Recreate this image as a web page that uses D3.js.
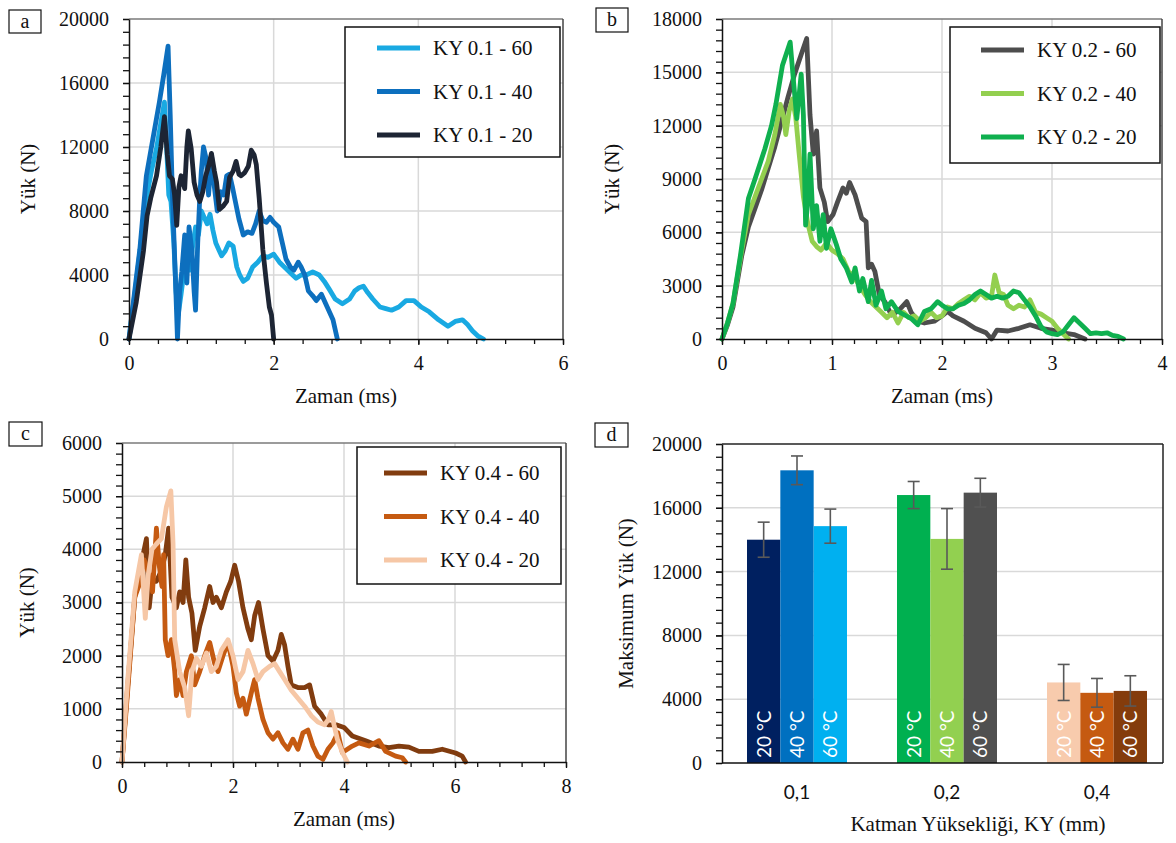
<!DOCTYPE html>
<html>
<head>
<meta charset="utf-8">
<script src="https://cdn.jsdelivr.net/npm/d3@7"></script>
<style>
body { margin: 0; background: #fff; }
svg { display: block; }
</style>
</head>
<body>
<svg id="fig" width="1176" height="843"></svg>
<script>
// ---- panel a : KY 0.1 ----
const aTime60 = [0, 0.05, 0.1, 0.17, 0.24, 0.31, 0.38, 0.44, 0.49, 0.52, 0.55, 0.58, 0.62, 0.65, 0.68, 0.72, 0.76, 0.8, 0.84, 0.88, 0.92, 0.96, 1.0, 1.04, 1.08, 1.12, 1.16, 1.2, 1.24, 1.28, 1.33, 1.38, 1.44, 1.49, 1.53, 1.58, 1.64, 1.71, 1.78, 1.85, 1.92, 2.0, 2.08, 2.17, 2.24, 2.31, 2.38, 2.45, 2.54, 2.63, 2.7, 2.77, 2.85, 2.95, 3.05, 3.12, 3.18, 3.24, 3.3, 3.37, 3.47, 3.55, 3.63, 3.73, 3.83, 3.94, 4.04, 4.15, 4.28, 4.41, 4.51, 4.61, 4.68, 4.75, 4.82, 4.9];
const aLoad60 = [0, 1800, 3500, 6200, 8800, 10500, 11900, 13500, 14800, 12000, 9000, 8600, 6000, 3000, 1500, 2800, 4200, 5500, 4300, 5800, 7000, 6500, 8000, 7600, 7200, 7800, 6800, 6000, 5600, 5200, 5500, 6000, 5800, 4500, 4000, 3600, 3800, 4500, 4800, 5200, 5100, 5300, 4800, 4400, 4100, 3800, 4000, 4000, 4200, 4000, 3600, 3100, 2500, 2200, 2500, 3000, 3200, 3300, 2900, 2500, 2000, 1900, 1800, 2000, 2400, 2400, 2000, 1700, 1200, 800, 1100, 1200, 900, 500, 200, 0];
const aTime40 = [0, 0.05, 0.1, 0.15, 0.24, 0.33, 0.42, 0.48, 0.54, 0.57, 0.6, 0.64, 0.67, 0.7, 0.73, 0.77, 0.8, 0.83, 0.87, 0.9, 0.92, 0.95, 0.98, 1.0, 1.03, 1.07, 1.1, 1.14, 1.18, 1.22, 1.27, 1.31, 1.35, 1.39, 1.43, 1.47, 1.52, 1.58, 1.64, 1.7, 1.75, 1.8, 1.85, 1.9, 1.95, 2.0, 2.07, 2.12, 2.17, 2.23, 2.28, 2.34, 2.38, 2.43, 2.48, 2.54, 2.59, 2.66, 2.74, 2.82, 2.88];
const aLoad40 = [0, 1900, 3800, 5600, 10200, 12500, 14800, 16500, 18300, 14000, 9000, 4000, 0, 3000, 4200, 6500, 3500, 7000, 5500, 3000, 1800, 6000, 9000, 10500, 12000, 11200, 9000, 11500, 9500, 8000, 9200, 9000, 10200, 10300, 9500, 8600, 7500, 6500, 6700, 6600, 7200, 8000, 7400, 7300, 7600, 7300, 7000, 6000, 5000, 4500, 4300, 4800, 4500, 4000, 3000, 2700, 2400, 2800, 2000, 1200, 0];
const aTime20 = [0, 0.1, 0.2, 0.25, 0.3, 0.38, 0.44, 0.49, 0.53, 0.56, 0.6, 0.63, 0.66, 0.69, 0.72, 0.77, 0.8, 0.82, 0.86, 0.9, 0.94, 0.98, 1.02, 1.06, 1.1, 1.14, 1.18, 1.21, 1.25, 1.3, 1.35, 1.39, 1.44, 1.48, 1.52, 1.55, 1.6, 1.65, 1.69, 1.73, 1.76, 1.8, 1.85, 1.9, 1.94, 1.97, 2.0];
const aLoad20 = [0, 2300, 5500, 7700, 8800, 10200, 12000, 13900, 11500, 10200, 10000, 9000, 7100, 9500, 10200, 9400, 12000, 13000, 11900, 9800, 9000, 8600, 9200, 10200, 10800, 11600, 10500, 9800, 8100, 8300, 8600, 10100, 10500, 11100, 10300, 10200, 10400, 10800, 11800, 11500, 10900, 8800, 5600, 3500, 2000, 1500, 0];

// ---- panel b : KY 0.2 ----
const bTime60 = [0, 0.05, 0.1, 0.18, 0.24, 0.3, 0.36, 0.42, 0.48, 0.54, 0.6, 0.66, 0.72, 0.77, 0.8, 0.83, 0.86, 0.89, 0.93, 0.96, 1.01, 1.05, 1.1, 1.13, 1.16, 1.21, 1.27, 1.31, 1.33, 1.36, 1.39, 1.43, 1.48, 1.54, 1.58, 1.62, 1.68, 1.72, 1.78, 1.84, 1.93, 2.0, 2.05, 2.1, 2.2, 2.3, 2.4, 2.45, 2.5, 2.6, 2.7, 2.8, 2.9, 3.0, 3.1, 3.2, 3.3];
const bLoad60 = [0, 800, 1800, 4700, 6300, 7350, 8400, 9600, 10800, 12200, 13600, 14900, 16000, 16900, 12600, 10400, 11700, 8500, 7700, 6600, 7000, 7700, 8500, 8200, 8800, 8100, 6800, 6600, 4000, 4200, 3800, 2500, 2100, 1350, 1500, 1700, 2100, 1500, 1000, 900, 1000, 1300, 1550, 1300, 1000, 600, 350, 0, 500, 450, 600, 800, 600, 500, 350, 250, 0];
const bTime40 = [0, 0.05, 0.1, 0.18, 0.24, 0.3, 0.36, 0.42, 0.48, 0.53, 0.56, 0.58, 0.61, 0.64, 0.67, 0.7, 0.74, 0.78, 0.82, 0.86, 0.9, 0.95, 1.0, 1.05, 1.1, 1.15, 1.2, 1.25, 1.3, 1.35, 1.4, 1.45, 1.5, 1.55, 1.6, 1.65, 1.7, 1.75, 1.8, 1.85, 1.9, 1.95, 2.0, 2.05, 2.1, 2.15, 2.2, 2.25, 2.3, 2.35, 2.4, 2.45, 2.48, 2.52, 2.56, 2.6, 2.65, 2.7, 2.75, 2.8, 2.85, 2.9, 2.95, 3.0, 3.05, 3.1, 3.15];
const bLoad40 = [0, 900, 2000, 5000, 7000, 8000, 9000, 10000, 11500, 13200, 12500, 11500, 12800, 13500, 12500, 10500, 8000, 6500, 5500, 5200, 5000, 5400, 5000, 4800, 4500, 3800, 3500, 3000, 2500, 2100, 1800, 1500, 1200, 1500, 900, 1500, 1200, 1300, 1000, 1200, 1500, 1200, 1300, 1800, 1700, 2000, 2200, 2400, 2200, 2600, 2300, 2400, 3600, 2600, 2500, 1900, 1700, 1900, 1800, 2200, 1500, 1400, 1200, 1000, 600, 300, 0];
const bTime20 = [0, 0.05, 0.1, 0.17, 0.24, 0.3, 0.39, 0.45, 0.49, 0.55, 0.62, 0.65, 0.68, 0.72, 0.74, 0.76, 0.78, 0.8, 0.83, 0.86, 0.89, 0.92, 0.95, 0.99, 1.04, 1.08, 1.13, 1.18, 1.21, 1.25, 1.28, 1.33, 1.36, 1.4, 1.45, 1.49, 1.54, 1.6, 1.66, 1.72, 1.78, 1.84, 1.9, 1.96, 2.0, 2.05, 2.1, 2.15, 2.2, 2.25, 2.3, 2.35, 2.4, 2.45, 2.5, 2.55, 2.6, 2.65, 2.7, 2.75, 2.8, 2.85, 2.9, 2.95, 3.0, 3.05, 3.1, 3.15, 3.2, 3.25, 3.3, 3.35, 3.4, 3.45, 3.5, 3.55, 3.6, 3.65];
const bLoad20 = [0, 900, 2000, 4800, 7900, 9000, 10700, 12000, 13200, 15400, 16700, 14500, 12400, 14900, 12600, 6400, 7700, 10400, 6200, 7500, 5500, 7000, 5100, 6200, 5300, 4500, 4000, 3200, 4000, 2700, 3400, 2100, 3300, 1900, 2700, 1700, 2100, 1550, 1350, 1150, 800, 1550, 1700, 2100, 1900, 1700, 1700, 1900, 2000, 2200, 2500, 2700, 2500, 2300, 2400, 2300, 2400, 2700, 2600, 2200, 1800, 1300, 700, 400, 300, 250, 400, 800, 1200, 900, 600, 300, 350, 300, 350, 200, 150, 0];

// ---- panel c : KY 0.4 ----
const cTime60 = [0, 0.1, 0.23, 0.3, 0.38, 0.44, 0.49, 0.54, 0.62, 0.71, 0.78, 0.84, 0.9, 0.98, 1.04, 1.1, 1.15, 1.2, 1.26, 1.32, 1.4, 1.49, 1.58, 1.64, 1.7, 1.79, 1.88, 1.96, 2.03, 2.1, 2.18, 2.27, 2.33, 2.39, 2.46, 2.54, 2.63, 2.72, 2.81, 2.87, 2.93, 2.99, 3.05, 3.17, 3.29, 3.38, 3.47, 3.59, 3.71, 3.86, 4.0, 4.15, 4.39, 4.63, 4.81, 4.99, 5.17, 5.35, 5.59, 5.77, 6.01, 6.13, 6.19];
const cLoad60 = [0, 1400, 3100, 3500, 3900, 4200, 2900, 3400, 3400, 3600, 3900, 4400, 3100, 2900, 3200, 3000, 3800, 3100, 2800, 2100, 2550, 2900, 3300, 3000, 3100, 2900, 3200, 3400, 3700, 3400, 2900, 2500, 2300, 2750, 3000, 2500, 2000, 1900, 2100, 2400, 2200, 1800, 1450, 1400, 1400, 1450, 1050, 900, 700, 700, 650, 490, 400, 300, 270, 300, 280, 200, 200, 240, 170, 110, 0];
const cTime40 = [0, 0.1, 0.23, 0.3, 0.4, 0.5, 0.55, 0.62, 0.67, 0.72, 0.75, 0.78, 0.83, 0.89, 0.95, 0.98, 1.04, 1.1, 1.16, 1.25, 1.31, 1.4, 1.49, 1.58, 1.67, 1.73, 1.82, 1.91, 2.0, 2.06, 2.12, 2.18, 2.24, 2.33, 2.39, 2.45, 2.54, 2.63, 2.72, 2.81, 2.9, 2.99, 3.08, 3.17, 3.26, 3.35, 3.44, 3.53, 3.62, 3.71, 3.8, 3.89, 3.97, 4.15, 4.27, 4.45, 4.63, 4.75, 4.93, 5.05, 5.11];
const cLoad40 = [0, 1300, 3100, 3300, 3800, 3500, 3200, 4400, 3700, 3300, 3900, 2300, 2000, 2300, 1700, 1250, 1550, 1250, 1700, 2000, 1450, 1700, 2000, 2250, 1850, 1700, 2000, 2250, 1800, 1300, 1050, 1200, 900, 1300, 1550, 1200, 800, 550, 430, 550, 360, 240, 430, 240, 550, 600, 300, 110, 50, 240, 360, 550, 180, 300, 360, 300, 400, 200, 110, 80, 0];
const cTime20 = [0, 0.1, 0.23, 0.35, 0.42, 0.47, 0.54, 0.62, 0.71, 0.8, 0.88, 0.92, 0.95, 1.04, 1.13, 1.2, 1.26, 1.34, 1.43, 1.52, 1.61, 1.7, 1.79, 1.91, 2.0, 2.09, 2.18, 2.27, 2.36, 2.45, 2.54, 2.66, 2.75, 2.84, 2.93, 3.05, 3.17, 3.29, 3.41, 3.53, 3.65, 3.72, 3.77, 3.82, 3.88, 3.97, 4.06];
const cLoad20 = [0, 1500, 3200, 3900, 2700, 3500, 4000, 4100, 4200, 4800, 5100, 4100, 2300, 1700, 1400, 870, 1700, 1950, 1800, 2050, 1700, 1800, 2100, 2300, 2000, 1550, 1700, 2100, 1850, 1550, 1700, 1800, 1850, 1700, 1550, 1350, 1200, 1050, 870, 750, 700, 800, 950, 700, 430, 180, 0];

// ---- panel d : maximum load ----
const layerHeights = ['0,1', '0,2', '0,4'];
const temps = ['20 °C', '40 °C', '60 °C'];
const maxLoad01 = [14000, 18350, 14850];
const maxErr01 = [1100, 900, 1070];
const maxLoad02 = [16800, 14050, 16950];
const maxErr02 = [850, 1900, 900];
const maxLoad04 = [5050, 4400, 4520];
const maxErr04 = [1130, 900, 950];

const SERIF = 'Liberation Serif';
const SANS = 'Lato';
const ink = '#111';
const svg = d3.select('#fig');

function panelLabel(x, y, w, h, letter) {
    svg.append('rect').attr('x', x).attr('y', y).attr('width', w).attr('height', h)
        .attr('fill', '#fff').attr('stroke', '#111').attr('stroke-width', 1.2);
    svg.append('text').attr('x', x + w / 2).attr('y', y + h / 2 + 6)
        .attr('text-anchor', 'middle').attr('font-family', SERIF).attr('font-size', 20)
        .attr('fill', ink).text(letter);
}

function styleAxis(sel, font) {
    sel.attr('font-family', font);
    sel.select('.domain').attr('stroke', '#111').attr('stroke-width', 1.5);
    sel.selectAll('.tick line').attr('stroke', '#111').attr('stroke-width', 1.3);
    sel.selectAll('.tick text').attr('font-family', font).attr('font-size', 20).attr('fill', ink);
}

function linePanel(o) {
    const g = svg.append('g');
    const x = d3.scaleLinear().domain(o.xDomain).range([o.left, o.right]);
    const y = d3.scaleLinear().domain(o.yDomain).range([o.bottom, o.top]);
    const xMajor = d3.range(o.xDomain[0], o.xDomain[1] + 1e-9, o.xStep);
    const yMajor = d3.range(o.yDomain[0], o.yDomain[1] + 1e-9, o.yStep);
    const xMinor = d3.range(0, Math.round((o.xDomain[1] - o.xDomain[0]) / o.xMinor) + 1).map(i => o.xDomain[0] + i * o.xMinor);
    const yMinor = d3.range(0, Math.round((o.yDomain[1] - o.yDomain[0]) / o.yMinor) + 1).map(i => o.yDomain[0] + i * o.yMinor);

    // grid
    g.append('g').selectAll('line').data(xMajor.slice(1, -1)).join('line')
        .attr('x1', d => x(d)).attr('x2', d => x(d)).attr('y1', o.top).attr('y2', o.bottom)
        .attr('stroke', '#d9d9d9').attr('stroke-width', 1.5);
    g.append('g').selectAll('line').data(yMajor.slice(1, -1)).join('line')
        .attr('y1', d => y(d)).attr('y2', d => y(d)).attr('x1', o.left).attr('x2', o.right)
        .attr('stroke', '#d9d9d9').attr('stroke-width', 1.5);
    // frame top / right
    g.append('line').attr('x1', o.left).attr('x2', o.right).attr('y1', o.top).attr('y2', o.top)
        .attr('stroke', '#7a7a7a').attr('stroke-width', 1.5);
    g.append('line').attr('x1', o.right).attr('x2', o.right).attr('y1', o.top).attr('y2', o.bottom)
        .attr('stroke', '#444').attr('stroke-width', 1.5);

    // series
    const line = d3.line().x(d => x(d[0])).y(d => y(d[1]));
    o.series.forEach(s => {
        const pts = s.time.map((t, i) => [t, s.load[i]]);
        g.append('path').datum(pts).attr('d', line)
            .attr('fill', 'none').attr('stroke', s.color).attr('stroke-width', 4.8)
            .attr('stroke-linejoin', 'round').attr('stroke-linecap', 'round');
    });

    // axes
    g.append('g').attr('transform', `translate(0,${o.bottom})`)
        .call(d3.axisBottom(x).tickValues(xMinor).tickFormat('').tickSize(5))
        .call(a => a.select('.domain').remove())
        .call(a => a.selectAll('.tick line').attr('stroke', '#111').attr('stroke-width', 1.3));
    g.append('g').attr('transform', `translate(${o.left},0)`)
        .call(d3.axisLeft(y).tickValues(yMinor).tickFormat('').tickSize(6))
        .call(a => a.select('.domain').remove())
        .call(a => a.selectAll('.tick line').attr('stroke', '#111').attr('stroke-width', 1.3));
    g.append('g').attr('transform', `translate(0,${o.bottom})`)
        .call(d3.axisBottom(x).tickValues(xMajor).tickFormat(d3.format('d')).tickSize(6).tickSizeOuter(0).tickPadding(11))
        .call(a => styleAxis(a, SERIF));
    g.append('g').attr('transform', `translate(${o.left},0)`)
        .call(d3.axisLeft(y).tickValues(yMajor).tickFormat(d3.format('d')).tickSize(6).tickSizeOuter(0).tickPadding(14))
        .call(a => styleAxis(a, SERIF));

    // titles
    g.append('text').attr('x', (o.left + o.right) / 2).attr('y', o.bottom + 64)
        .attr('text-anchor', 'middle').attr('font-family', SERIF).attr('font-size', 21)
        .attr('fill', ink).text('Zaman (ms)');
    g.append('text').attr('transform', `translate(${o.yTitleX},${(o.top + o.bottom) / 2}) rotate(-90)`)
        .attr('text-anchor', 'middle').attr('dy', '0.35em').attr('font-family', SERIF).attr('font-size', 21)
        .attr('fill', ink).text('Yük (N)');

    // legend
    const L = o.legend;
    g.append('rect').attr('x', L.x).attr('y', L.y).attr('width', L.w).attr('height', L.h)
        .attr('fill', '#fff').attr('stroke', '#111').attr('stroke-width', 1.5);
    o.series.forEach((s, i) => {
        const cy = L.y + L.row0 + i * L.gap;
        g.append('line').attr('x1', L.x + L.lineX).attr('x2', L.x + L.lineX + 43)
            .attr('y1', cy).attr('y2', cy).attr('stroke', s.color).attr('stroke-width', 4.8);
        g.append('text').attr('x', L.x + L.lineX + 56).attr('y', cy).attr('dy', '0.35em')
            .attr('font-family', SERIF).attr('font-size', 21).attr('fill', ink).text(s.name);
    });
}

linePanel({
    left: 129, right: 563, top: 19, bottom: 339,
    xDomain: [0, 6], xStep: 2, xMinor: 0.4,
    yDomain: [0, 20000], yStep: 4000, yMinor: 800,
    yTitleX: 28,
    legend: {x: 345, y: 27, w: 215, h: 130, row0: 21, gap: 43.5, lineX: 32},
    series: [
        {name: 'KY 0.1 - 60', color: '#19a9e2', time: aTime60, load: aLoad60},
        {name: 'KY 0.1 - 40', color: '#0d6fbe', time: aTime40, load: aLoad40},
        {name: 'KY 0.1 - 20', color: '#1d2534', time: aTime20, load: aLoad20}
    ]
});

linePanel({
    left: 722, right: 1162, top: 19, bottom: 339,
    xDomain: [0, 4], xStep: 1, xMinor: 0.2,
    yDomain: [0, 18000], yStep: 3000, yMinor: 600,
    yTitleX: 612,
    legend: {x: 950, y: 27, w: 210, h: 136, row0: 23, gap: 43.5, lineX: 31},
    series: [
        {name: 'KY 0.2 - 60', color: '#4d4d4d', time: bTime60, load: bLoad60},
        {name: 'KY 0.2 - 40', color: '#93cf4f', time: bTime40, load: bLoad40},
        {name: 'KY 0.2 - 20', color: '#0fb04f', time: bTime20, load: bLoad20}
    ]
});

linePanel({
    left: 122, right: 566, top: 443, bottom: 762,
    xDomain: [0, 8], xStep: 2, xMinor: 0.4,
    yDomain: [0, 6000], yStep: 1000, yMinor: 200,
    yTitleX: 27,
    legend: {x: 357, y: 447, w: 204, h: 137, row0: 26, gap: 43.5, lineX: 27},
    series: [
        {name: 'KY 0.4 - 60', color: '#813c0f', time: cTime60, load: cLoad60},
        {name: 'KY 0.4 - 40', color: '#c55a11', time: cTime40, load: cLoad40},
        {name: 'KY 0.4 - 20', color: '#f6c7a6', time: cTime20, load: cLoad20}
    ]
});

// ---- bar panel d ----
(function () {
    const left = 722, right = 1163, top = 444, bottom = 763;
    const groups = [
        {cat: layerHeights[0], vals: maxLoad01, errs: maxErr01, colors: ['#002060', '#0070c0', '#00b0f0']},
        {cat: layerHeights[1], vals: maxLoad02, errs: maxErr02, colors: ['#00b050', '#92d050', '#505050']},
        {cat: layerHeights[2], vals: maxLoad04, errs: maxErr04, colors: ['#f8cbad', '#c55a11', '#843c0c']}
    ];
    const g = svg.append('g');
    const x = d3.scaleBand().domain(layerHeights).range([left, left + 450]).paddingInner(1 / 3).paddingOuter(1 / 6);
    const xi = d3.scaleBand().domain(temps).range([0, x.bandwidth()]);
    const y = d3.scaleLinear().domain([0, 20000]).range([bottom, top]);

    g.append('g').selectAll('line').data(d3.range(4000, 20000, 4000)).join('line')
        .attr('x1', left).attr('x2', right).attr('y1', d => y(d)).attr('y2', d => y(d))
        .attr('stroke', '#d9d9d9').attr('stroke-width', 1.5);
    g.append('line').attr('x1', left).attr('x2', right).attr('y1', top).attr('y2', top)
        .attr('stroke', '#222').attr('stroke-width', 1.5);
    g.append('line').attr('x1', right).attr('x2', right).attr('y1', top).attr('y2', bottom)
        .attr('stroke', '#222').attr('stroke-width', 1.5);

    groups.forEach(grp => {
        const gg = g.append('g').attr('transform', `translate(${x(grp.cat)},0)`);
        const rows = temps.map((t, i) => ({t, v: grp.vals[i], e: grp.errs[i], c: grp.colors[i]}));
        gg.selectAll('rect').data(rows).join('rect')
            .attr('x', d => xi(d.t)).attr('width', xi.bandwidth())
            .attr('y', d => y(d.v)).attr('height', d => bottom - y(d.v))
            .attr('fill', d => d.c);
        gg.selectAll('text.temp').data(rows).join('text').attr('class', 'temp')
            .attr('transform', d => `translate(${xi(d.t) + xi.bandwidth() / 2},${bottom - 5}) rotate(-90)`)
            .attr('dy', '0.36em').attr('text-anchor', 'start')
            .attr('font-family', SANS).attr('font-size', 19).attr('fill', '#fff')
            .text(d => d.t);
        const eb = gg.selectAll('g.err').data(rows).join('g').attr('class', 'err')
            .attr('stroke', '#595959').attr('stroke-width', 1.6);
        eb.append('line').attr('x1', d => xi(d.t) + xi.bandwidth() / 2).attr('x2', d => xi(d.t) + xi.bandwidth() / 2)
            .attr('y1', d => y(d.v + d.e)).attr('y2', d => y(d.v - d.e));
        eb.append('line').attr('x1', d => xi(d.t) + xi.bandwidth() / 2 - 6).attr('x2', d => xi(d.t) + xi.bandwidth() / 2 + 6)
            .attr('y1', d => y(d.v + d.e)).attr('y2', d => y(d.v + d.e));
        eb.append('line').attr('x1', d => xi(d.t) + xi.bandwidth() / 2 - 6).attr('x2', d => xi(d.t) + xi.bandwidth() / 2 + 6)
            .attr('y1', d => y(d.v - d.e)).attr('y2', d => y(d.v - d.e));
    });

    // axes
    g.append('g').attr('transform', `translate(${left},0)`)
        .call(d3.axisLeft(y).tickValues(d3.range(0, 20001, 800)).tickFormat('').tickSize(6))
        .call(a => a.select('.domain').remove())
        .call(a => a.selectAll('.tick line').attr('stroke', '#111').attr('stroke-width', 1.3));
    g.append('g').attr('transform', `translate(${left},0)`)
        .call(d3.axisLeft(y).tickValues(d3.range(0, 20001, 4000)).tickFormat(d3.format('d')).tickSize(6).tickSizeOuter(0).tickPadding(14))
        .call(a => styleAxis(a, SERIF));
    const xa = g.append('g').attr('transform', `translate(0,${bottom})`)
        .call(d3.axisBottom(x).tickSize(0).tickPadding(23))
        .call(a => styleAxis(a, SANS));
    xa.select('.domain').attr('d', `M${left},0H${right}`);
    xa.selectAll('.tick text').attr('font-size', 19);

    g.append('text').attr('x', 978).attr('y', 831).attr('text-anchor', 'middle')
        .attr('font-family', SERIF).attr('font-size', 21).attr('fill', ink)
        .text('Katman Yüksekliği, KY (mm)');
    g.append('text').attr('transform', `translate(626,${(top + bottom) / 2}) rotate(-90)`)
        .attr('text-anchor', 'middle').attr('dy', '0.35em')
        .attr('font-family', SERIF).attr('font-size', 21).attr('fill', ink)
        .text('Maksimum Yük (N)');
})();

panelLabel(9, 10, 32, 23, 'a');
panelLabel(596, 8, 32, 24, 'b');
panelLabel(9, 422, 33, 24, 'c');
panelLabel(595, 423, 33, 24, 'd');
</script>
</body>
</html>
